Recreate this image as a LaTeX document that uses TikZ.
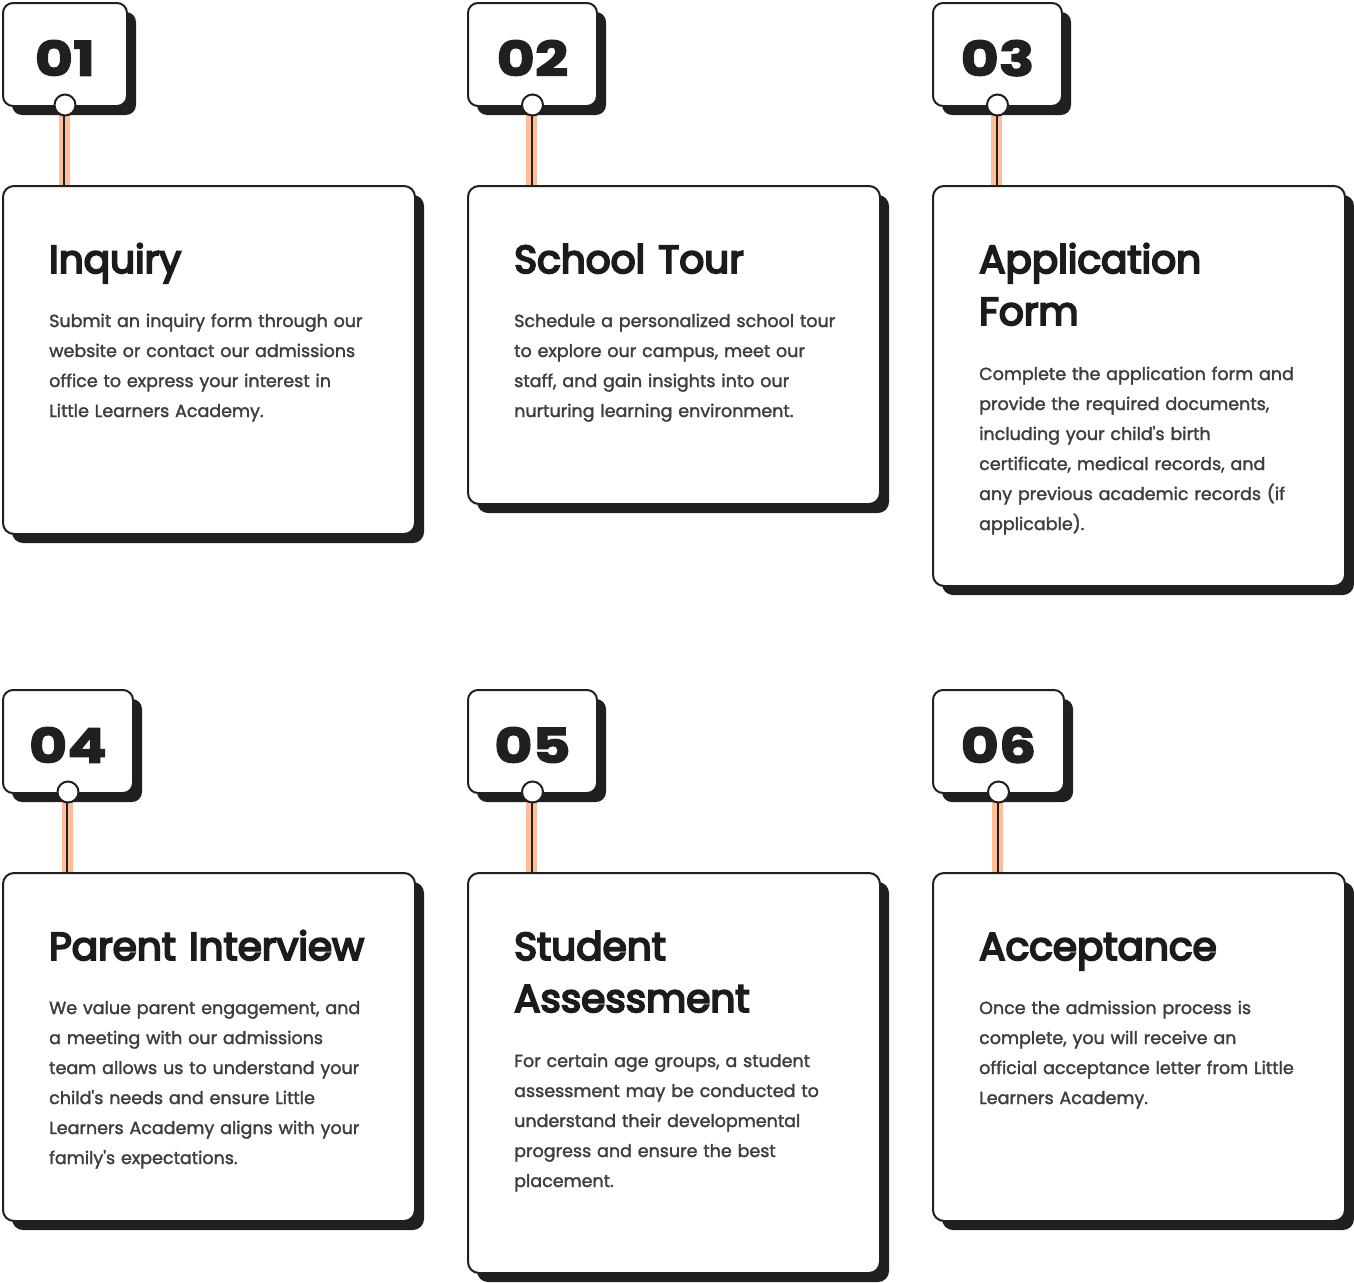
\documentclass[tikz,border=0pt]{standalone}
\usepackage{fontspec}
\setmainfont{Poppins}
\newfontfamily\numfont{Poppins}[BoldFeatures={FakeBold=2.5,FakeStretch=1.22}]
\newfontfamily\headfont{Poppins}[FakeBold=5]
\newfontfamily\bodyfont{Poppins}[FakeBold=1.8]
\usetikzlibrary{shadows}

\definecolor{ink}{HTML}{202020}
\definecolor{bodygray}{HTML}{3E3E3E}
\definecolor{titleink}{HTML}{1B1B1B}
\definecolor{peach}{HTML}{FFBE98}

% One admission step: badge with number, pin, stem and the card below it.
% #1 id, #2 left x, #3 top y, #4 badge width, #5 card height,
% #6 number, #7 title, #8 body text, #9 baseline offset of the body
\newcommand\admstep[9]{%
  \draw[stemband] (#2+#4/2,#3+100) -- (#2+#4/2,#3+184);
  \draw[stemcore] (#2+#4/2,#3+100) -- (#2+#4/2,#3+184);
  \node[badge, minimum width=#4pt] (b#1) at (#2,#3) {\raisebox{-3.5pt}[\height][0pt]{#6}};
  \node[card, minimum height=#5pt] (c#1) at (#2,#3+183) {};
  \node[pin] (k#1) at ([yshift=2pt]b#1.south) {};
  \node[titletext] (t#1) at ([xshift=47pt,yshift=-88pt]c#1.north west) {#7};
  \node[bodytext] (d#1) at ([xshift=47pt,yshift=-#9pt]c#1.north west) {#8};
}

\begin{document}
\begin{tikzpicture}[x=1pt,y=-1pt,
  shadowed/.style={general shadow={fill=ink, shadow xshift=9pt, shadow yshift=-9pt}},
  badge/.style={draw=ink, line width=2pt, fill=white, rounded corners=10pt,
    anchor=north west, inner sep=0pt, minimum height=103pt, text=ink,
    font=\numfont\bfseries\fontsize{48}{48}\selectfont, shadowed},
  card/.style={draw=ink, line width=2pt, fill=white, rounded corners=11pt,
    anchor=north west, inner sep=0pt, minimum width=412pt, shadowed},
  pin/.style={circle, draw=ink, line width=2pt, fill=white, minimum size=21pt, inner sep=0pt},
  stemband/.style={draw=peach, line width=11pt},
  stemcore/.style={draw=ink, line width=2pt},
  titletext/.style={anchor=base west, inner sep=0pt, text width=380pt, align=left,
    text=titleink, font=\headfont\fontsize{39}{52}\selectfont},
  bodytext/.style={anchor=base west, inner sep=0pt, text width=380pt, align=left,
    text=bodygray, font=\bodyfont\fontsize{17.5}{30}\selectfont},
]
\useasboundingbox (0,0) rectangle (1354,1282);

\admstep{1}{2}{2}{124}{348}{01}{Inquiry}
  {Submit an inquiry form through our\\website or contact our admissions\\office to express your interest in\\Little Learners Academy.}{142}
\admstep{2}{467}{2}{129}{318}{02}{School Tour}
  {Schedule a personalized school tour\\to explore our campus, meet our\\staff, and gain insights into our\\nurturing learning environment.}{142}
\admstep{3}{932}{2}{129}{400}{03}{Application\\Form}
  {Complete the application form and\\provide the required documents,\\including your child's birth\\certificate, medical records, and\\any previous academic records (if\\applicable).}{195}

\admstep{4}{2}{689}{130}{348}{04}{Parent Interview}
  {We value parent engagement, and\\a meeting with our admissions\\team allows us to understand your\\child's needs and ensure Little\\Learners Academy aligns with your\\family's expectations.}{142}
\admstep{5}{467}{689}{129}{400}{05}{Student\\Assessment}
  {For certain age groups, a student\\assessment may be conducted to\\understand their developmental\\progress and ensure the best\\placement.}{195}
\admstep{6}{932}{689}{131}{348}{06}{Acceptance}
  {Once the admission process is\\complete, you will receive an\\official acceptance letter from Little\\Learners Academy.}{142}
\end{tikzpicture}
\end{document}
